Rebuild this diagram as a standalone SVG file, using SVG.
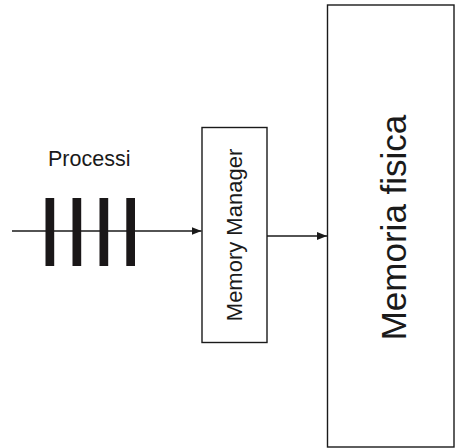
<svg xmlns="http://www.w3.org/2000/svg" width="455" height="448" viewBox="0 0 455 448">
  <style>
    .box { fill: #ffffff; stroke: #1a1a1a; stroke-width: 1.4; }
    .line { fill: none; stroke: #1a1a1a; stroke-width: 1.4; }
    .bar { fill: #1a1718; }
    .label { font-family: "Liberation Sans", Arial, sans-serif; fill: #1a1a1a; }
  </style>
  <defs>
    <marker id="arrow" viewBox="0 0 10 8" refX="10" refY="4" markerWidth="10" markerHeight="8" markerUnits="userSpaceOnUse" orient="auto">
      <path d="M0,0 L10,4 L0,8 Z" fill="#1a1a1a"/>
    </marker>
  </defs>

  <rect width="455" height="448" fill="#ffffff"/>

  <g id="connectors">
    <line class="line" x1="12" y1="231" x2="201.5" y2="231" marker-end="url(#arrow)"/>
    <line class="line" x1="267" y1="236" x2="327" y2="236" marker-end="url(#arrow)"/>
  </g>

  <g id="processi">
    <text class="label" x="48" y="166" font-size="21.5">Processi</text>
    <rect class="bar" x="45.5" y="198" width="8.7" height="68"/>
    <rect class="bar" x="72.5" y="198" width="8.7" height="68"/>
    <rect class="bar" x="99.5" y="198" width="8.7" height="68"/>
    <rect class="bar" x="126.3" y="198" width="8.7" height="68"/>
  </g>

  <g id="memory-manager">
    <rect class="box" x="202" y="127.5" width="65" height="215"/>
    <text class="label" font-size="22" text-anchor="middle" transform="translate(241.5,235) rotate(-90)">Memory Manager</text>
  </g>

  <g id="memoria-fisica">
    <rect class="box" x="327.5" y="5" width="126.5" height="442"/>
    <text class="label" font-size="35" text-anchor="middle" transform="translate(405.5,227.5) rotate(-90)">Memoria fisica</text>
  </g>
</svg>
